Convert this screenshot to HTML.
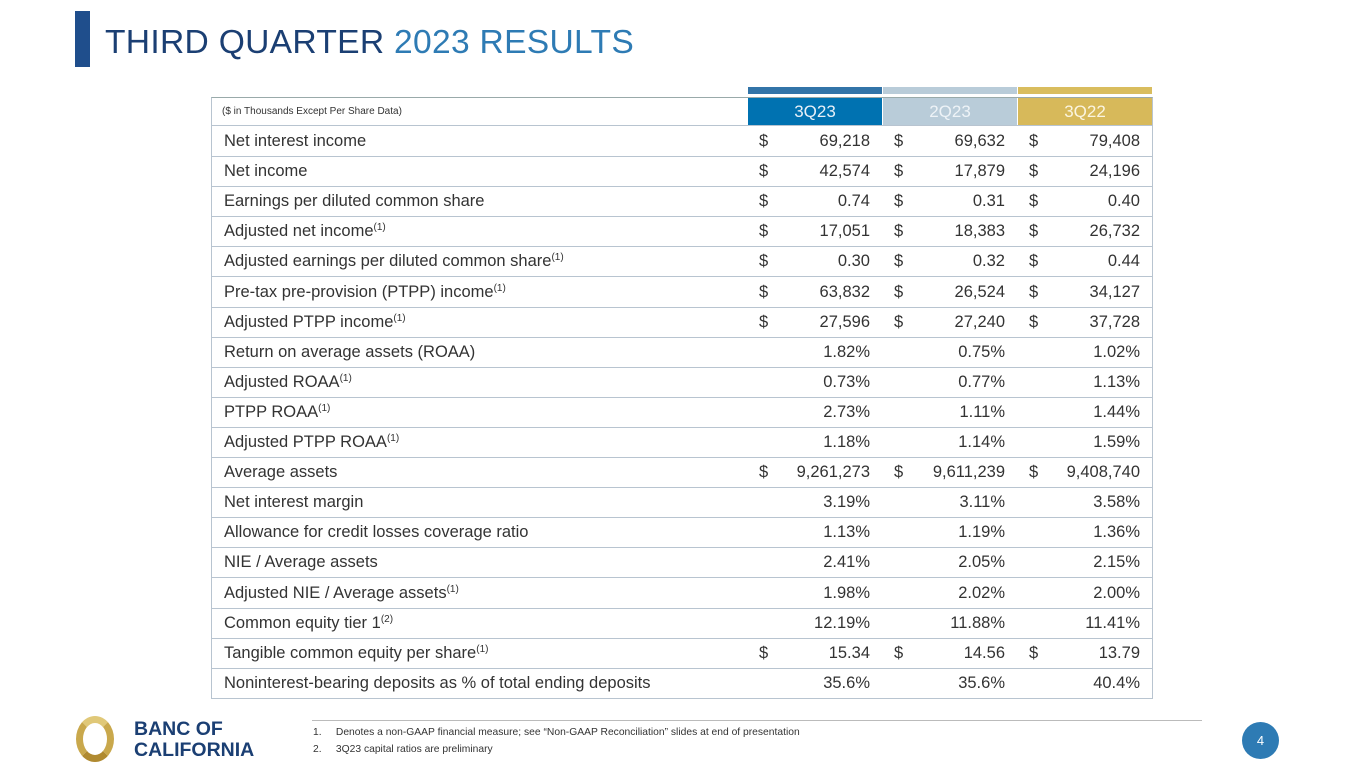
<!DOCTYPE html>
<html><head><meta charset="utf-8">
<style>
body{margin:0;width:1365px;height:768px;background:#fff;font-family:"Liberation Sans",sans-serif;position:relative;overflow:hidden;color:#333}
.abs{position:absolute}
.row{position:absolute;left:211px;width:941px;height:30px;border-bottom:1px solid #b8c4d0;font-size:16.5px;line-height:31px}
.lab{position:absolute;left:13px;white-space:nowrap}
.lab sup{font-size:10px;line-height:0;vertical-align:6px}
.d{position:absolute}
.v{position:absolute;text-align:right;width:120px}
</style></head><body>
<div class="abs" style="left:75px;top:11px;width:15px;height:56px;background:#1f4e8c"></div>
<div class="abs" style="left:105px;top:24px;font-size:33.6px;color:#1b3f73;letter-spacing:0.3px">THIRD QUARTER <span style="color:#2e7bb4">2023 RESULTS</span></div>

<div class="abs" style="left:748px;top:87px;width:134px;height:7px;background:#3274a8"></div>
<div class="abs" style="left:883px;top:87px;width:134px;height:7px;background:#b9ccd9"></div>
<div class="abs" style="left:1018px;top:87px;width:134px;height:7px;background:#d9bd5e"></div>

<div class="abs" style="left:211px;top:97px;width:940px;height:600px;border:1px solid #b8c4d0;border-top:1px solid #9aa"></div>
<div class="abs" style="left:222px;top:106px;font-size:10px">($ in Thousands Except Per Share Data)</div>
<div class="abs" style="left:748px;top:98px;width:134px;height:27px;background:#0072b1;color:#e8f0f8;font-size:17px;line-height:28px;text-align:center">3Q23</div>
<div class="abs" style="left:883px;top:98px;width:134px;height:27px;background:#b9ccd9;color:#eef3f7;font-size:17px;line-height:28px;text-align:center">2Q23</div>
<div class="abs" style="left:1018px;top:98px;width:134px;height:27px;background:#d7b95a;color:#fbf5e0;font-size:17px;line-height:28px;text-align:center">3Q22</div>
<div class="abs" style="left:211px;top:125px;width:941px;height:1px;background:#b8c4d0"></div>

<div id="rows"></div>

<div class="abs" style="left:76px;top:716px;width:38px;height:46px;border-radius:50%;border:7px solid #c9a84c;box-sizing:border-box;border-top-color:#e0c878;border-bottom-color:#b08a30"></div>
<div class="abs" style="left:134px;top:719px;font-size:19.5px;font-weight:bold;color:#1b3f73;line-height:21px">BANC OF<br>CALIFORNIA</div>
<div class="abs" style="left:312px;top:720px;width:890px;height:1px;background:#bbb"></div>
<div class="abs" style="left:313px;top:727px;font-size:10.3px">1.&nbsp;&nbsp;&nbsp;&nbsp;&nbsp;Denotes a non-GAAP financial measure; see “Non-GAAP Reconciliation” slides at end of presentation</div>
<div class="abs" style="left:313px;top:744px;font-size:10.3px">2.&nbsp;&nbsp;&nbsp;&nbsp;&nbsp;3Q23 capital ratios are preliminary</div>
<div class="abs" style="left:1242px;top:722px;width:37px;height:37px;border-radius:50%;background:#2e7bb4;color:#fff;font-size:13px;line-height:37px;text-align:center">4</div>

<script>
const labels=["Net interest income","Net income","Earnings per diluted common share","Adjusted net income<sup>(1)</sup>","Adjusted earnings per diluted common share<sup>(1)</sup>","Pre-tax pre-provision (PTPP) income<sup>(1)</sup>","Adjusted PTPP income<sup>(1)</sup>","Return on average assets (ROAA)","Adjusted ROAA<sup>(1)</sup>","PTPP ROAA<sup>(1)</sup>","Adjusted PTPP ROAA<sup>(1)</sup>","Average assets","Net interest margin","Allowance for credit losses coverage ratio","NIE / Average assets","Adjusted NIE / Average assets<sup>(1)</sup>","Common equity tier 1<sup>(2)</sup>","Tangible common equity per share<sup>(1)</sup>","Noninterest-bearing deposits as % of total ending deposits"];
const q3_23=["69,218","42,574","0.74","17,051","0.30","63,832","27,596","1.82%","0.73%","2.73%","1.18%","9,261,273","3.19%","1.13%","2.41%","1.98%","12.19%","15.34","35.6%"];
const q2_23=["69,632","17,879","0.31","18,383","0.32","26,524","27,240","0.75%","0.77%","1.11%","1.14%","9,611,239","3.11%","1.19%","2.05%","2.02%","11.88%","14.56","35.6%"];
const q3_22=["79,408","24,196","0.40","26,732","0.44","34,127","37,728","1.02%","1.13%","1.44%","1.59%","9,408,740","3.58%","1.36%","2.15%","2.00%","11.41%","13.79","40.4%"];
const dollar=[1,1,1,1,1,1,1,0,0,0,0,1,0,0,0,0,0,1,0];
const c=document.getElementById('rows');
const cols=[[q3_23,759,750],[q2_23,894,885],[q3_22,1029,1020]];
labels.forEach((l,i)=>{
  const r=document.createElement('div');r.className='row';
  
  
  r.style.top=(126+i*30.1)+'px';
  let h='<span class="lab">'+l+'</span>';
  cols.forEach(([arr,dx,vx])=>{
    if(dollar[i]) h+='<span class="d" style="left:'+(dx-211)+'px">$</span>';
    h+='<span class="v" style="left:'+(vx-211)+'px">'+arr[i]+'</span>';
  });
  r.innerHTML=h;c.appendChild(r);
});
</script>
</body></html>
